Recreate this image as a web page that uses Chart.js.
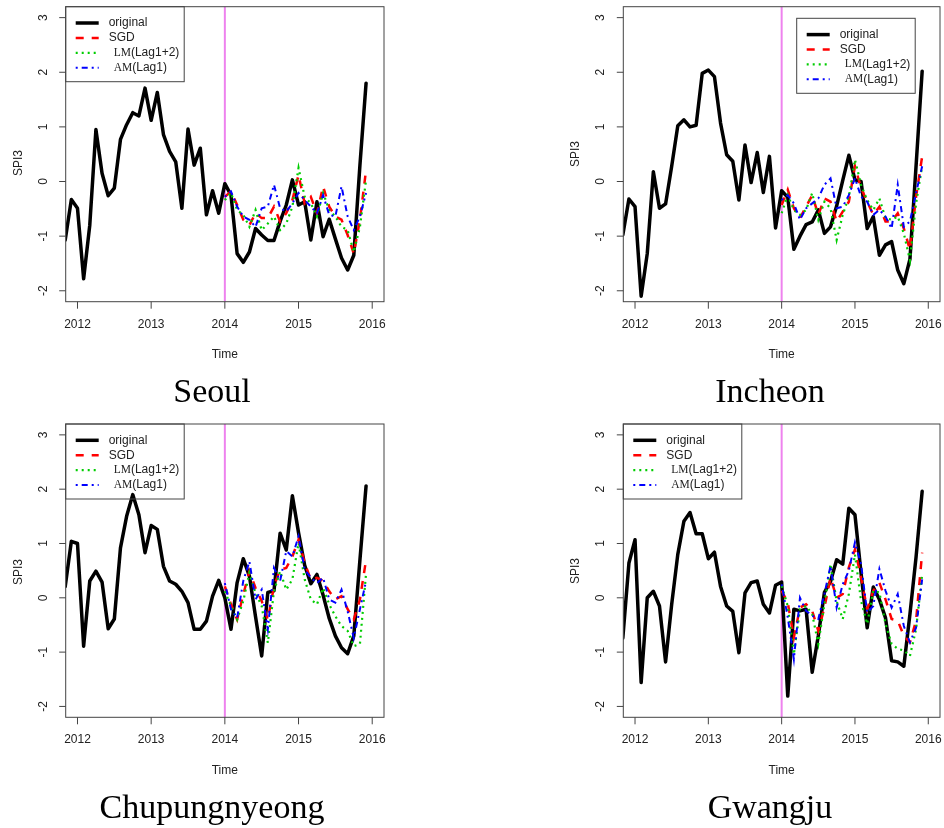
<!DOCTYPE html>
<html>
<head>
<meta charset="utf-8">
<script src="https://cdn.jsdelivr.net/npm/chart.js@4.4.1/dist/chart.umd.min.js"></script>
<style>
  body { margin: 0; background: #fff; }
  #page { position: relative; width: 944px; height: 828px; overflow: hidden; background: #fff; }
  #page canvas { position: absolute; }
  .station {
    position: absolute;
    font-family: "Liberation Serif", "DejaVu Serif", serif;
    font-size: 34px;
    line-height: 1;
    color: #000;
    white-space: nowrap;
    transform: translateX(-50%);
  }
</style>
</head>
<body>
<div id="page">
  <canvas id="seoul" width="472" height="414" style="left:0;top:0"></canvas>
  <canvas id="incheon" width="472" height="414" style="left:472px;top:0"></canvas>
  <canvas id="chupung" width="472" height="414" style="left:0;top:414px"></canvas>
  <canvas id="gwangju" width="472" height="414" style="left:472px;top:414px"></canvas>
  <div class="station" style="left:212px;top:374px">Seoul</div>
  <div class="station" style="left:770px;top:374px">Incheon</div>
  <div class="station" style="left:212px;top:790px">Chupungnyeong</div>
  <div class="station" style="left:770px;top:790px">Gwangju</div>
</div>
<script>
// axis setup
const xTicks = [2012, 2013, 2014, 2015, 2016];
const yTicks = [-2, -1, 0, 1, 2, 3];
const xRange = [2011.84, 2016.16];
const yRange = [-2.2, 3.2];
const splitYear = 2014;
const legendNames = [['', 'original'], ['', 'SGD'], ['LM', '(Lag1+2)'], ['AM', '(Lag1)']];

// monthly SPI3, first value Nov 2011; forecasts start Jan 2014 (26 months later)
const startYear = 2011;
const startMonth = 10;
const modelOffset = 26;

const seoulOriginal = [-1.07, -0.33, -0.49, -1.78, -0.8, 0.95, 0.15, -0.26, -0.12, 0.77, 1.04, 1.26, 1.2,
  1.71, 1.12, 1.63, 0.86, 0.55, 0.36, -0.49, 0.96, 0.3, 0.61, -0.61, -0.17, -0.58,
  -0.04, -0.25, -1.32, -1.48, -1.29, -0.86, -0.98, -1.08, -1.08, -0.73, -0.43, 0.03,
  -0.43, -0.37, -1.07, -0.37, -1.01, -0.69, -1.05, -1.4, -1.62, -1.35, 0.3, 1.8];
const seoulSGD = [-0.28, -0.18, -0.43, -0.7, -0.8, -0.58, -0.67, -0.67, -0.46, -0.73, -0.58, -0.34,
  0.12, -0.4, -0.28, -0.58, -0.09, -0.46, -0.64, -0.7, -0.98, -1.32, -0.7, 0.21];
const seoulLM = [-0.34, -0.21, -0.52, -0.61, -0.83, -0.52, -0.89, -0.77, -0.64, -0.89, -0.77, -0.46,
  0.25, -0.28, -0.4, -0.64, -0.21, -0.52, -0.64, -0.83, -0.89, -1.29, -0.83, 0.03];
const seoulAM = [-0.28, -0.18, -0.46, -0.64, -0.7, -0.83, -0.49, -0.46, -0.06, -0.49, -0.55, -0.4,
  -0.21, -0.34, -0.46, -0.58, -0.25, -0.61, -0.64, -0.09, -0.64, -0.89, -0.64, -0.21];

const incheonOriginal = [-0.98, -0.32, -0.46, -2.1, -1.32, 0.18, -0.49, -0.41, 0.28, 1.02, 1.13, 1.0, 1.03,
  1.98, 2.04, 1.92, 1.07, 0.49, 0.37, -0.34, 0.67, -0.02, 0.53, -0.2, 0.46, -0.85,
  -0.17, -0.29, -1.24, -1.0, -0.79, -0.74, -0.52, -0.95, -0.83, -0.45, 0.02, 0.48,
  0.03, 0.0, -0.86, -0.64, -1.35, -1.16, -1.1, -1.62, -1.87, -1.42, 0.28, 2.02];
const incheonSGD = [-0.43, -0.15, -0.49, -0.67, -0.46, -0.25, -0.61, -0.31, -0.37, -0.73, -0.55, -0.37,
  0.28, -0.12, -0.37, -0.61, -0.46, -0.73, -0.73, -0.58, -0.86, -1.25, -0.28, 0.46];
const incheonLM = [-0.58, -0.25, -0.52, -0.61, -0.52, -0.21, -0.7, -0.37, -0.49, -1.07, -0.61, -0.28,
  0.4, -0.06, -0.34, -0.52, -0.31, -0.67, -0.7, -0.64, -0.95, -1.44, -0.4, 0.28];
const incheonAM = [-0.34, -0.25, -0.4, -0.7, -0.49, -0.4, -0.31, -0.06, 0.06, -0.49, -0.46, -0.25,
  0.06, -0.28, -0.37, -0.61, -0.52, -0.64, -0.86, -0.06, -0.83, -0.73, -0.21, 0.28];

const chupungOriginal = [0.21, 1.04, 1.0, -0.89, 0.31, 0.49, 0.29, -0.57, -0.39, 0.92, 1.5, 1.9, 1.53,
  0.83, 1.33, 1.26, 0.58, 0.31, 0.25, 0.12, -0.09, -0.58, -0.58, -0.43, 0.03, 0.32,
  0.0, -0.58, 0.28, 0.72, 0.4, -0.35, -1.07, 0.1, 0.13, 1.19, 0.88, 1.88,
  1.2, 0.6, 0.26, 0.43, 0.05, -0.38, -0.7, -0.92, -1.03, -0.7, 0.7, 2.06];
const chupungSGD = [0.21, -0.12, -0.4, 0.06, 0.49, 0.18, -0.06, -0.4, 0.21, 0.52, 0.55, 0.76,
  1.07, 0.64, 0.34, 0.37, 0.31, 0.12, -0.03, 0.03, -0.21, -0.4, -0.03, 0.7];
const chupungLM = [0.12, -0.15, -0.4, -0.06, 0.46, 0.09, -0.15, -0.83, 0.12, 0.49, 0.15, 0.34,
  1.01, 0.34, -0.03, -0.12, 0.18, -0.12, -0.34, -0.52, -0.61, -0.89, -0.85, 0.45];
const chupungAM = [0.27, -0.21, -0.37, 0.31, 0.67, -0.03, 0.15, -0.58, 0.55, 0.31, 0.86, 0.76,
  1.13, 0.52, 0.37, 0.27, 0.37, -0.03, -0.09, 0.15, -0.25, -0.74, -0.21, 0.31];

const gwangjuOriginal = [-0.74, 0.64, 1.07, -1.56, 0.0, 0.12, -0.15, -1.18, -0.12, 0.8, 1.41, 1.57, 1.18,
  1.18, 0.72, 0.84, 0.21, -0.15, -0.25, -1.01, 0.09, 0.28, 0.31, -0.12, -0.28, 0.23,
  0.29, -1.81, -0.21, -0.24, -0.21, -1.37, -0.7, 0.1, 0.3, 0.7, 0.62, 1.65,
  1.53, 0.45, -0.55, 0.2, -0.03, -0.37, -1.16, -1.18, -1.26, -0.3, 0.75, 1.96];
const gwangjuSGD = [0.13, -0.09, -0.73, -0.18, -0.12, -0.24, -0.61, -0.18, 0.37, 0.0, 0.07, 0.56,
  0.89, 0.37, -0.21, 0.13, 0.28, -0.03, -0.39, -0.42, -0.7, -0.82, -0.42, 0.83];
const gwangjuLM = [0.22, -0.15, -1.04, -0.21, -0.15, -0.3, -0.85, -0.12, 0.62, -0.06, -0.39, 0.07,
  0.8, -0.06, -0.48, 0.13, 0.1, -0.48, -0.85, -0.94, -0.97, -1.07, -0.58, 0.43];
const gwangjuAM = [0.25, -0.36, -1.13, 0.0, -0.24, -0.33, -0.39, 0.07, 0.59, -0.18, 0.25, 0.5,
  1.02, 0.62, -0.27, -0.15, 0.53, 0.13, -0.18, 0.07, -0.52, -0.82, -0.55, 0.34];

const sansFont = '"Liberation Sans", Arial, sans-serif';
const serifFont = '"Liberation Serif", "Times New Roman", serif';

function toPoints(values, offset) {
  return values.map((v, i) => ({ x: startYear + (startMonth + offset + i) / 12, y: v }));
}

// R style box, ticks, axis titles and legend
const rFrame = {
  id: 'rFrame',
  afterDraw(chart, args, o) {
    const { ctx, chartArea: a, scales: { x, y } } = chart;
    ctx.save();
    ctx.strokeStyle = '#444';
    ctx.lineWidth = 1;
    ctx.setLineDash([]);
    ctx.strokeRect(a.left, a.top, a.right - a.left, a.bottom - a.top);

    ctx.fillStyle = '#222';
    ctx.font = '12px ' + sansFont;
    ctx.textAlign = 'center';
    ctx.textBaseline = 'middle';
    ctx.beginPath();
    xTicks.forEach(v => {
      const px = x.getPixelForValue(v);
      ctx.moveTo(px, a.bottom);
      ctx.lineTo(px, a.bottom + 7);
      ctx.fillText(String(v), px, a.bottom + 22.5);
    });
    yTicks.forEach(v => {
      const py = y.getPixelForValue(v);
      ctx.moveTo(a.left - 6.5, py);
      ctx.lineTo(a.left, py);
      ctx.save();
      ctx.translate(a.left - 22.4, py);
      ctx.rotate(-Math.PI / 2);
      ctx.fillText(String(v), 0, 0);
      ctx.restore();
    });
    ctx.stroke();

    ctx.fillText('Time', (a.left + a.right) / 2, a.bottom + 53);
    ctx.save();
    ctx.translate(a.left - 47.5, o.ylabY);
    ctx.rotate(-Math.PI / 2);
    ctx.fillText('SPI3', 0, 0);
    ctx.restore();

    // legend
    const lx = a.left + o.legendDx;
    const ly = a.top + o.legendDy;
    ctx.strokeStyle = '#444';
    ctx.lineWidth = 1;
    ctx.strokeRect(lx, ly, 118.5, 75);
    chart.data.datasets.slice(0, 4).forEach((ds, i) => {
      const ry = ly + 16.3 + 14.9 * i;
      ctx.save();
      ctx.strokeStyle = ds.borderColor;
      ctx.lineWidth = ds.borderWidth;
      ctx.setLineDash(ds.borderDash || []);
      ctx.lineCap = 'butt';
      ctx.beginPath();
      ctx.moveTo(lx + 10, ry);
      ctx.lineTo(lx + 33, ry);
      ctx.stroke();
      ctx.restore();
      const [serifPart, sansPart] = legendNames[i];
      let tx = lx + 43;
      ctx.textAlign = 'left';
      if (serifPart) {
        tx += 5;
        ctx.font = '11.5px ' + serifFont;
        ctx.fillText(serifPart, tx, ry);
        tx += ctx.measureText(serifPart).width;
      }
      ctx.font = '12px ' + sansFont;
      ctx.fillText(sansPart, tx, ry);
    });
    ctx.restore();
  }
};

function drawPanel(canvasId, original, sgd, lm, am, frame) {
  new Chart(document.getElementById(canvasId), {
    type: 'line',
    data: {
      datasets: [
        { label: 'original', data: toPoints(original, 0), borderColor: '#000000', borderWidth: 3.5,
          borderJoinStyle: 'round', borderCapStyle: 'round', order: 4 },
        { label: 'SGD', data: toPoints(sgd, modelOffset), borderColor: '#ff0000', borderWidth: 2.5,
          borderDash: [8, 8], order: 3 },
        { label: 'LM(Lag1+2)', data: toPoints(lm, modelOffset), borderColor: '#00cd00', borderWidth: 2.2,
          borderDash: [2, 4], order: 2 },
        { label: 'AM(Lag1)', data: toPoints(am, modelOffset), borderColor: '#0000ff', borderWidth: 2,
          borderDash: [2, 4, 6, 4], order: 1 },
        { label: 'split', data: [{ x: splitYear, y: yRange[0] }, { x: splitYear, y: yRange[1] }],
          borderColor: '#ee82ee', borderWidth: 2, order: 5 }
      ]
    },
    options: {
      responsive: false,
      animation: false,
      devicePixelRatio: 1,
      layout: { padding: frame.padding },
      elements: { point: { radius: 0 }, line: { tension: 0, fill: false } },
      plugins: { legend: { display: false }, tooltip: { enabled: false }, rFrame: frame },
      scales: {
        x: { type: 'linear', min: xRange[0], max: xRange[1], display: false },
        y: { type: 'linear', min: yRange[0], max: yRange[1], display: false }
      }
    },
    plugins: [rFrame]
  });
}

drawPanel('seoul', seoulOriginal, seoulSGD, seoulLM, seoulAM,
  { padding: { left: 65.7, top: 6.7, right: 88, bottom: 112.3 }, ylabY: 163, legendDx: 0, legendDy: 0 });
drawPanel('incheon', incheonOriginal, incheonSGD, incheonLM, incheonAM,
  { padding: { left: 151.3, top: 6.7, right: 4, bottom: 112.3 }, ylabY: 154, legendDx: 173.4, legendDy: 11.6 });
drawPanel('chupung', chupungOriginal, chupungSGD, chupungLM, chupungAM,
  { padding: { left: 65.7, top: 10, right: 88, bottom: 110.7 }, ylabY: 158, legendDx: 0, legendDy: 0 });
drawPanel('gwangju', gwangjuOriginal, gwangjuSGD, gwangjuLM, gwangjuAM,
  { padding: { left: 151.3, top: 10, right: 4, bottom: 110.7 }, ylabY: 157, legendDx: 0, legendDy: 0 });
</script>
</body>
</html>
